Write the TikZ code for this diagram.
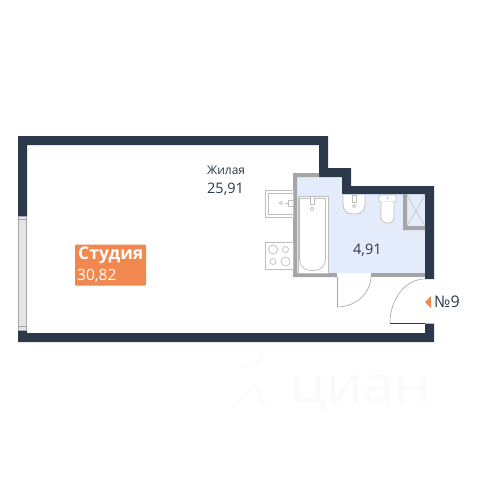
\documentclass[tikz,border=0pt]{standalone}
\usepackage{fontspec}
\setmainfont{Open Sans}
\definecolor{wallc}{RGB}{43,57,74}
\definecolor{partc}{RGB}{165,165,165}
\definecolor{roomc}{RGB}{228,235,250}
\definecolor{labelc}{RGB}{240,136,80}
\definecolor{fixc}{RGB}{190,190,190}
\definecolor{markc}{RGB}{250,250,250}

\begin{document}
\begin{tikzpicture} [
    x=1pt, y=-1pt,
    wall/.style={fill=wallc},
    partition/.style={fill=partc},
    fixture/.style={draw=fixc,line width=0.7pt},
    fixturefill/.style={fixture,fill=white},
    txt/.style={anchor=west,inner sep=0pt,text=wallc}
]

\useasboundingbox [fill=white] (0,0) rectangle (480,480);

% room
\fill [roomc] (297,177) -- (342,177) -- (342,194) -- (425,194)
    -- (425,273) -- (297,273) -- cycle;

% walls
\path [wall] (18,216) -- (18,136) -- (328,136) -- (328,168) -- (351,168)
    -- (351,186) -- (434,186) -- (434,279) -- (425,279) -- (425,194)
    -- (342,194) -- (342,177) -- (319,177) -- (319,145) -- (27,145)
    -- (27,216) -- cycle;
\path [wall] (18,330) -- (27,330) -- (27,333) -- (425,333) -- (425,323.5)
    -- (434,323.5) -- (434,342) -- (18,342) -- cycle;

% window
\draw [fill=black!10,draw=partc,line width=0.6pt] (18.5,216) rectangle (26.5,330);
\draw [partc,line width=0.6pt] (18.5,219) -- (26.5,219);
\draw [partc,line width=0.6pt] (18.5,326) -- (26.5,326);

% partitions
\path [partition] (293,173) -- (319,173) -- (319,177) -- (297,177)
    -- (297,273) -- (337,273) -- (337,277) -- (293,277) -- cycle;
\path [partition] (371,273) rectangle (425,277);
\path [partition] (403,194) -- (407,194) -- (407,226) -- (425,226)
    -- (425,230) -- (403,230) -- cycle;

% shaft
\draw [fixc,line width=0.5pt] (407,195) -- (425,226);
\draw [fixc,line width=0.5pt] (425,195) -- (407,226);

% doors
\draw [partc,line width=1.5pt] (337.5,277) -- (337.5,307);
\draw [partc,line width=0.6pt] (337,307) arc [start angle=270,end angle=360,x radius=34pt,y radius=31pt];
\draw [wallc,line width=1.2pt] (390,323.5) -- (425,323.5);
\draw [partc,line width=0.6pt] (425,279) arc [start angle=90,end angle=180,x radius=35pt,y radius=44pt];

% bath
\draw [fixturefill] (298,196) rectangle (328,273);
\draw [fixture,rounded corners=11pt] (299.5,198) -- (299.5,270.5) -- (325.5,270.5) -- (325.5,198);
\draw [fixture] (299.5,198) -- (325.5,198);
\draw [fixturefill] (310,196) rectangle (314,204);
\draw [fixture] (312,209) circle [radius=1.8pt];

% basin
\draw [fixturefill,rounded corners=9pt] (343,195) -- (343,214) -- (365,214) -- (365,195);
\draw [fixturefill] (352,195) rectangle (356,202);
\draw [fixture] (354,206) circle [radius=1.6pt];

% toilet
\draw [fixturefill,rounded corners=1pt] (379,195) rectangle (396,202);
\draw [fixturefill,rounded corners=5pt] (381,202) -- (381,223) -- (394,223) -- (394,202);
\fill [fixc] (387.5,198) circle [radius=1pt];

% kitchen sink
\draw [fixture] (265,190) rectangle (293,217);
\draw [fixture] (268.5,193) rectangle (293,214.5);
\draw [fixture] (281,203) circle [radius=1.6pt];
\draw [fixture] (293,200) -- (288,200) -- (288,206) -- (293,206);
\draw [fixture] (285,203) -- (288,203);

% stove
\draw [fixture] (265,242) rectangle (293,269);
\draw [fixture] (273,249.5) circle [radius=4.5pt];
\draw [fixture] (285.5,249.5) circle [radius=3pt];
\draw [fixture] (273,261.5) circle [radius=3pt];
\draw [fixture] (285.5,261.5) circle [radius=4.5pt];

% labels
\node [txt,font=\fontsize{12}{14}\selectfont] (living) at (207,170) {Жилая};
\node [txt,font=\fontsize{14.5}{16}\selectfont] (livingarea) at (207,189) {25,91};
\node [txt,font=\fontsize{14.5}{16}\selectfont] (batharea) at (353,250) {4,91};

\path [fill=labelc,rounded corners=1pt] (75,244.5) rectangle (146,285.5);
\node [txt,text=white,font=\fontsize{17.5}{20}\selectfont\bfseries] (studio) at (78,255.5) {Студия};
\node [txt,text=white,font=\fontsize{15.5}{18}\selectfont] (studioarea) at (77,276) {30,82};

\fill [labelc] (425,302) -- (431,296) -- (431,308) -- cycle;
\node [txt,font=\fontsize{16}{18}\selectfont] (flatno) at (434,302) {№9};

% watermark
\node [txt,text=markc,xscale=1.15,font=\fontsize{50}{52}\selectfont] (brand) at (290,394) {циан};
\draw [markc,line width=2pt] (262,352) arc [start angle=0,end angle=-120,radius=14pt];
\draw [markc,line width=2pt] (233,408) -- (255,384) -- (265,408);

\end{tikzpicture}
\end{document}
